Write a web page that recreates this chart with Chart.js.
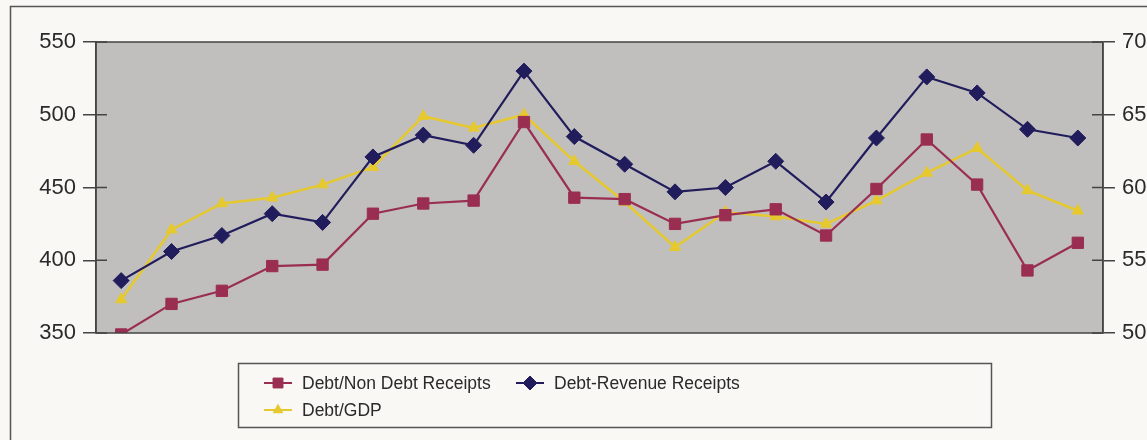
<!DOCTYPE html>
<html>
<head>
<meta charset="utf-8">
<script src="https://cdn.jsdelivr.net/npm/chart.js@4"></script>
<style>
  html, body { margin: 0; padding: 0; background: #faf8f5; }
  #wrap { width: 1147px; height: 440px; }
</style>
</head>
<body>
<div id="wrap"><canvas id="grafico" width="1147" height="440"></canvas></div>
<script>
// 20 observations, no labels printed on the x axis
const categorias = ['1', '2', '3', '4', '5', '6', '7', '8', '9', '10',
                    '11', '12', '13', '14', '15', '16', '17', '18', '19', '20'];

const debtNonDebt = [349, 370, 379, 396, 397, 432, 439, 441, 495, 443,
                     442, 425, 431, 435, 417, 449, 483, 452, 393, 412];
const debtRevenue = [386, 406, 417, 432, 426, 471, 486, 479, 530, 485,
                     466, 447, 450, 468, 440, 484, 526, 515, 490, 484];
const debtGdp = [52.3, 57.1, 58.9, 59.3, 60.2, 61.4, 64.9, 64.1, 65.0, 61.8,
                 59.0, 55.9, 58.3, 58.0, 57.5, 59.1, 61.0, 62.7, 59.8, 58.4];

const ticksEsquerda = [350, 400, 450, 500, 550];
const ticksDireita = [50, 55, 60, 65, 70];

const corMarrom = '#9a2d52';
const corAzul = '#211d5c';
const corAmarela = '#e6c92e';
const corTexto = '#2a2a2a';
const corEixo = '#444444';
const fonte = '"Liberation Sans", Arial, sans-serif';

// gray plot area, outer frame and tick marks that cross the axis
const fundoPlot = {
    id: 'fundoPlot',
    beforeDraw(chart) {
        const { ctx, chartArea: a } = chart;
        ctx.save();
        ctx.strokeStyle = '#555';
        ctx.lineWidth = 1.5;
        ctx.strokeRect(10.5, 6.5, 1160, 460);
        ctx.fillStyle = '#c0bfbd';
        ctx.fillRect(a.left, a.top, a.right - a.left, a.bottom - a.top);
        ctx.restore();
    },
    afterDatasetsDraw(chart) {
        const { ctx, chartArea: a, scales } = chart;
        ctx.save();
        ctx.strokeStyle = corEixo;
        ctx.lineWidth = 1.5;
        ctx.strokeRect(a.left, a.top, a.right - a.left, a.bottom - a.top);
        ctx.beginPath();
        ticksEsquerda.forEach(v => {
            const y = scales.yEsq.getPixelForValue(v);
            ctx.moveTo(a.left, y);
            ctx.lineTo(a.left + 11, y);
        });
        ticksDireita.forEach(v => {
            const y = scales.yDir.getPixelForValue(v);
            ctx.moveTo(a.right, y);
            ctx.lineTo(a.right - 11, y);
        });
        ctx.stroke();
        ctx.restore();
    }
};

// boxed legend under the plot, built from the datasets
const legendaCaixa = {
    id: 'legendaCaixa',
    afterDraw(chart) {
        const { ctx } = chart;
        const ds = chart.data.datasets;
        const posicoes = [
            { x: 278, y: 383 },
            { x: 530, y: 383 },
            { x: 278, y: 410 }
        ];
        ctx.save();
        ctx.strokeStyle = '#555';
        ctx.lineWidth = 1.5;
        ctx.strokeRect(238.5, 363.5, 753, 64);
        ds.forEach((d, i) => {
            const p = posicoes[i];
            ctx.strokeStyle = d.borderColor;
            ctx.lineWidth = 2;
            ctx.beginPath();
            ctx.moveTo(p.x - 14, p.y);
            ctx.lineTo(p.x + 14, p.y);
            ctx.stroke();
            ctx.fillStyle = d.pointBackgroundColor;
            ctx.strokeStyle = d.pointBorderColor;
            ctx.lineWidth = 1;
            Chart.helpers.drawPoint(ctx, { pointStyle: d.pointStyle, radius: d.pointRadius - 1, borderWidth: 1 }, p.x, p.y);
            ctx.fillStyle = corTexto;
            ctx.font = '17.5px ' + fonte;
            ctx.textBaseline = 'middle';
            ctx.fillText(d.label, p.x + 24, p.y + 1);
        });
        ctx.restore();
    }
};

const ctx = document.getElementById('grafico').getContext('2d');
new Chart(ctx, {
    type: 'line',
    data: {
        labels: categorias,
        datasets: [
            {
                label: 'Debt/Non Debt Receipts',
                data: debtNonDebt,
                yAxisID: 'yEsq',
                borderColor: corMarrom,
                borderWidth: 2.2,
                pointStyle: 'rect',
                pointRadius: 8,
                pointBackgroundColor: corMarrom,
                pointBorderColor: corMarrom,
                pointBorderWidth: 1,
                tension: 0
            },
            {
                label: 'Debt-Revenue Receipts',
                data: debtRevenue,
                yAxisID: 'yEsq',
                borderColor: corAzul,
                borderWidth: 2.2,
                pointStyle: 'rectRot',
                pointRadius: 8,
                pointBackgroundColor: corAzul,
                pointBorderColor: corAzul,
                pointBorderWidth: 1,
                tension: 0
            },
            {
                label: 'Debt/GDP',
                data: debtGdp,
                yAxisID: 'yDir',
                borderColor: corAmarela,
                borderWidth: 2.5,
                pointStyle: 'triangle',
                pointRadius: 6.5,
                pointBackgroundColor: corAmarela,
                pointBorderColor: corAmarela,
                pointBorderWidth: 1,
                tension: 0
            }
        ]
    },
    options: {
        responsive: false,
        animation: false,
        layout: { padding: { left: 0, right: 0, top: 42, bottom: 107 } },
        plugins: {
            legend: { display: false },
            tooltip: { enabled: false }
        },
        scales: {
            x: {
                display: false,
                offset: true
            },
            yEsq: {
                position: 'left',
                min: 350,
                max: 550,
                afterFit: s => { s.width = 96; },
                afterBuildTicks: s => { s.ticks = ticksEsquerda.map(v => ({ value: v })); },
                grid: { drawOnChartArea: false, drawTicks: true, tickLength: 13, color: corEixo, lineWidth: 1.5 },
                border: { display: true, color: corEixo, width: 1.5 },
                ticks: { color: corTexto, padding: 7, font: { family: fonte, size: 22 } }
            },
            yDir: {
                position: 'right',
                min: 50,
                max: 70,
                afterFit: s => { s.width = 44; },
                afterBuildTicks: s => { s.ticks = ticksDireita.map(v => ({ value: v })); },
                grid: { drawOnChartArea: false, drawTicks: true, tickLength: 12, color: corEixo, lineWidth: 1.5 },
                border: { display: true, color: corEixo, width: 1.5 },
                ticks: { color: corTexto, padding: 7, font: { family: fonte, size: 22 } }
            }
        }
    },
    plugins: [fundoPlot, legendaCaixa]
});
</script>
</body>
</html>
